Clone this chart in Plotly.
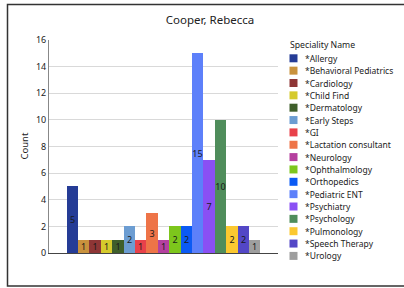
import plotly.graph_objects as go

categories = ["*Allergy", "*Behavioral Pediatrics", "*Cardiology", "*Child Find",
              "*Dermatology", "*Early Steps", "*GI", "*Lactation consultant",
              "*Neurology", "*Ophthalmology", "*Orthopedics", "*Pediatric ENT",
              "*Psychiatry", "*Psychology", "*Pulmonology", "*Speech Therapy", "*Urology"]
counts = [5, 1, 1, 1, 1, 2, 1, 3, 1, 2, 2, 15, 7, 10, 2, 2, 1]
colors = ["#253C96", "#C9923D", "#8E3636", "#D5CA2C", "#3F5F2B", "#6C9DD2",
          "#E8414A", "#EE7448", "#B5409F", "#7DC61C", "#0B5AF4", "#5D80FA",
          "#8A50F4", "#4F8D5B", "#FBC830", "#5347C6", "#9E9E9E"]

W, H = 404, 288
ml, mr, mt, mb = 49, 0, 30, 20
pw, ph = W - ml - mr, H - mt - mb
plot_left, plot_right, plot_top, plot_bottom = 49, 278, 40, 253

xdom = [0, (plot_right - ml) / pw]
ydom = [(H - mb - plot_bottom) / ph, (H - mb - plot_top) / ph]

fig = go.Figure()
fig.add_trace(go.Bar(
    x=categories, y=counts, marker=dict(color=colors, line=dict(width=0)),
    width=1, text=counts, texttemplate="%{text}", textposition="inside",
    insidetextanchor="middle", constraintext="none",
    textfont=dict(size=9, color="#1a1a1a", family="Noto Sans"),
    showlegend=False, hoverinfo="skip", xaxis="x", yaxis="y"))

# legend drawn as a small scatter on its own pixel-like axis
leg_y0, leg_dy = 58.3, 12.35
leg_y = [leg_y0 + i * leg_dy for i in range(len(categories))]
fig.add_trace(go.Scatter(
    x=[293.5] * len(categories), y=leg_y, mode="markers",
    marker=dict(symbol="square", size=8, color=colors, line=dict(width=0)),
    showlegend=False, hoverinfo="skip", xaxis="x2", yaxis="y2", cliponaxis=False))

annotations = [dict(text="Speciality Name", xref="x2", yref="y2", x=287.5, y=45,
                    xanchor="left", yanchor="middle", showarrow=False,
                    font=dict(size=8.7, color="#222")),
               dict(text="Count", xref="paper", yref="paper", x=(24 - ml) / pw,
                    y=(H - mb - 146.5) / ph, xanchor="center", yanchor="middle",
                    textangle=-90, showarrow=False, font=dict(size=9.5, color="#222"))]
for name, yy in zip(categories, leg_y):
    annotations.append(dict(text=name, xref="x2", yref="y2", x=302.5, y=yy,
                            xanchor="left", yanchor="middle", showarrow=False,
                            font=dict(size=8.5, color="#222")))

fig.update_layout(
    width=W, height=H, margin=dict(l=ml, r=mr, t=mt, b=mb),
    paper_bgcolor="white", plot_bgcolor="white",
    font=dict(family="Noto Sans", color="#222"),
    title=dict(text="Cooper, Rebecca", x=(210 - ml) / pw, xref="paper", xanchor="center",
               y=1 - 20 / H, yanchor="middle", font=dict(size=11.5, color="#222")),
    bargap=0, barmode="overlay",
    uniformtext=dict(minsize=9, mode="show"),
    xaxis=dict(domain=xdom, type="category", range=[-2.05, 18.05], showticklabels=False,
               showgrid=False, showline=True, linecolor="#444", linewidth=1, ticks="",
               zeroline=False, fixedrange=True),
    yaxis=dict(domain=ydom, range=[0, 16], dtick=2, showgrid=True, gridcolor="#d9d9d9",
               showline=True, linecolor="#888", linewidth=1, ticks="", zeroline=False,
               tickfont=dict(size=9, color="#222"), automargin=False),
    xaxis2=dict(domain=[xdom[1], 1], range=[plot_right, W], visible=False, anchor="y2"),
    yaxis2=dict(domain=[0, 1], range=[H - mb, mt], visible=False, anchor="x2"),
    annotations=annotations,
    shapes=[dict(type="rect", xref="paper", yref="paper",
                 x0=(7.5 - ml) / pw, x1=(W + 10 - ml) / pw,
                 y0=(H - mb - 286) / ph, y1=(H - mb - 4.5) / ph,
                 line=dict(color="#333", width=1.5), fillcolor="rgba(0,0,0,0)",
                 layer="above")],
)

fig.write_html("out.html", config={"displayModeBar": False},
               post_script="document.body.style.margin='0';document.body.style.padding='0';")
